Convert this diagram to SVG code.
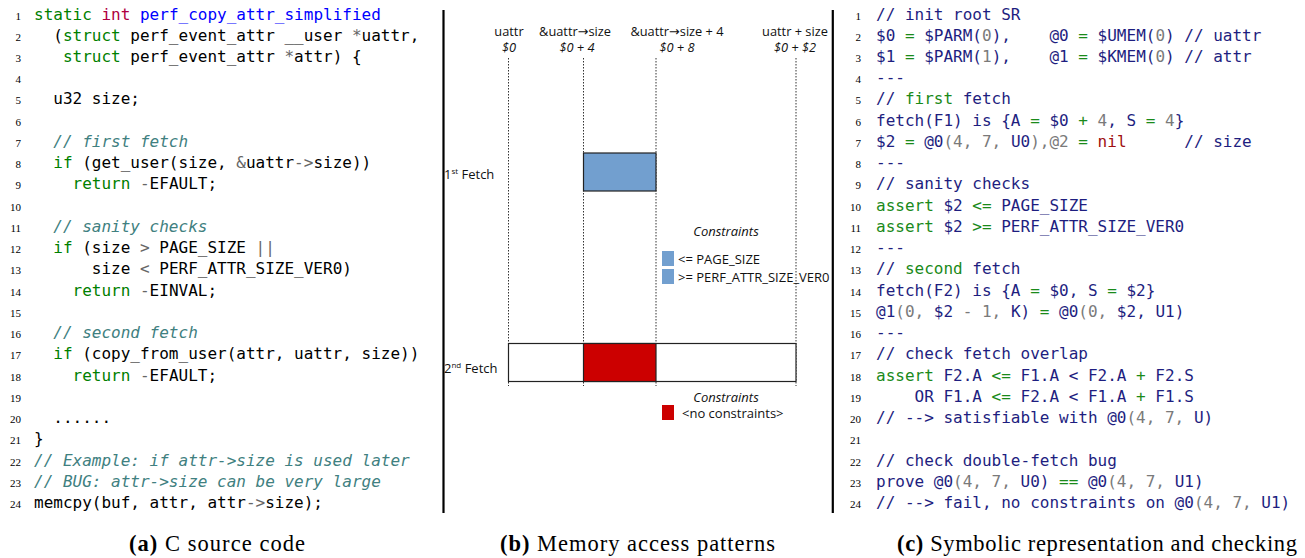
<svg xmlns="http://www.w3.org/2000/svg" width="1305" height="558" viewBox="0 0 1305 558">
<style>
.c{font-family:"DejaVu Sans Mono","Liberation Mono",monospace;font-size:16px;fill:#000;white-space:pre}
.ln{font-family:"Liberation Serif",serif;font-size:11px;text-anchor:end;fill:#000}
.kw{fill:#008000}.kt{fill:#B00040}.fn{fill:#0000FF}.op{fill:#666}.cm{fill:#408080;font-style:italic}
.n{fill:#1e1e80}.g{fill:#1a8a1a}.gy{fill:#7a7a7a}.r{fill:#a01010}
.s{font-family:"Open Sans","DejaVu Sans",sans-serif;font-size:13px;fill:#111}
.si{font-family:"Open Sans","DejaVu Sans",sans-serif;font-size:13px;font-style:italic;fill:#111}
.t{font-size:12.8px}
.mid{text-anchor:middle}
.sup{font-size:8px}
.cap{font-family:"Liberation Serif","Times New Roman",serif;font-size:22.5px;fill:#000}
.guide{stroke:#333;stroke-width:1;stroke-dasharray:1.5 1.5;fill:none}
.sep{stroke:#000;stroke-width:2.2}
.blue{fill:#729fcf}
.red{fill:#cc0000}
.box{stroke:#222;stroke-width:1.2}
</style>

<g id="separators">
<line class="sep" x1="443.5" y1="10" x2="443.5" y2="513"/>
<line class="sep" x1="832.8" y1="10" x2="832.8" y2="513"/>
</g>

<g id="panel-a-code">
<text class="ln" x="21" y="19.5">1</text><text class="c" x="34" y="19.5"><tspan class="kw">static</tspan> <tspan class="kt">int</tspan> <tspan class="fn">perf_copy_attr_simplified</tspan></text>
<text class="ln" x="21" y="40.74">2</text><text class="c" x="34" y="40.74">  (<tspan class="kw">struct</tspan> perf_event_attr __user <tspan class="op">*</tspan>uattr,</text>
<text class="ln" x="21" y="61.98">3</text><text class="c" x="34" y="61.98">   <tspan class="kw">struct</tspan> perf_event_attr <tspan class="op">*</tspan>attr) {</text>
<text class="ln" x="21" y="83.22">4</text>
<text class="ln" x="21" y="104.46">5</text><text class="c" x="34" y="104.46">  u32 size;</text>
<text class="ln" x="21" y="125.7">6</text>
<text class="ln" x="21" y="146.94">7</text><text class="c" x="34" y="146.94">  <tspan class="cm">// first fetch</tspan></text>
<text class="ln" x="21" y="168.18">8</text><text class="c" x="34" y="168.18">  <tspan class="kw">if</tspan> (get_user(size, <tspan class="op">&amp;</tspan>uattr<tspan class="op">-&gt;</tspan>size))</text>
<text class="ln" x="21" y="189.42">9</text><text class="c" x="34" y="189.42">    <tspan class="kw">return</tspan> <tspan class="op">-</tspan>EFAULT;</text>
<text class="ln" x="21" y="210.66">10</text>
<text class="ln" x="21" y="231.9">11</text><text class="c" x="34" y="231.9">  <tspan class="cm">// sanity checks</tspan></text>
<text class="ln" x="21" y="253.14">12</text><text class="c" x="34" y="253.14">  <tspan class="kw">if</tspan> (size <tspan class="op">&gt;</tspan> PAGE_SIZE <tspan class="op">||</tspan></text>
<text class="ln" x="21" y="274.38">13</text><text class="c" x="34" y="274.38">      size <tspan class="op">&lt;</tspan> PERF_ATTR_SIZE_VER0)</text>
<text class="ln" x="21" y="295.62">14</text><text class="c" x="34" y="295.62">    <tspan class="kw">return</tspan> <tspan class="op">-</tspan>EINVAL;</text>
<text class="ln" x="21" y="316.86">15</text>
<text class="ln" x="21" y="338.1">16</text><text class="c" x="34" y="338.1">  <tspan class="cm">// second fetch</tspan></text>
<text class="ln" x="21" y="359.34">17</text><text class="c" x="34" y="359.34">  <tspan class="kw">if</tspan> (copy_from_user(attr, uattr, size))</text>
<text class="ln" x="21" y="380.58">18</text><text class="c" x="34" y="380.58">    <tspan class="kw">return</tspan> <tspan class="op">-</tspan>EFAULT;</text>
<text class="ln" x="21" y="401.82">19</text>
<text class="ln" x="21" y="423.06">20</text><text class="c" x="34" y="423.06">  ......</text>
<text class="ln" x="21" y="444.3">21</text><text class="c" x="34" y="444.3">}</text>
<text class="ln" x="21" y="465.54">22</text><text class="c" x="34" y="465.54"><tspan class="cm">// Example: if attr-&gt;size is used later</tspan></text>
<text class="ln" x="21" y="486.78">23</text><text class="c" x="34" y="486.78"><tspan class="cm">// BUG: attr-&gt;size can be very large</tspan></text>
<text class="ln" x="21" y="508.02">24</text><text class="c" x="34" y="508.02">memcpy(buf, attr, attr<tspan class="op">-&gt;</tspan>size);</text>
</g>

<g id="panel-b-guides">
<line class="guide" x1="508.5" y1="58" x2="508.5" y2="386"/>
<line class="guide" x1="583.5" y1="58" x2="583.5" y2="386"/>
<line class="guide" x1="656" y1="58" x2="656" y2="386"/>
<line class="guide" x1="796" y1="58" x2="796" y2="386"/>
</g>

<g id="address-labels">
<text class="s t mid" x="509" y="36">uattr</text>
<text class="si t mid" x="509" y="52">$0</text>
<text class="s t mid" x="575" y="36">&amp;uattr→size</text>
<text class="si t mid" x="577" y="52">$0 + 4</text>
<text class="s t mid" x="677" y="36">&amp;uattr→size + 4</text>
<text class="si t mid" x="677" y="52">$0 + 8</text>
<text class="s t mid" x="795" y="36">uattr + size</text>
<text class="si t mid" x="795" y="52">$0 + $2</text>
</g>

<g id="fetch1">
<text class="s" x="444" y="178.5">1<tspan class="sup" dy="-5">st</tspan><tspan dy="5"> Fetch</tspan></text>
<rect class="blue box" x="583.5" y="153" width="72.5" height="38"/>
</g>

<g id="legend1">
<text class="si mid" x="726" y="236">Constraints</text>
<rect class="blue" x="662" y="251" width="12" height="15"/>
<text class="s" x="678" y="263.5">&lt;= PAGE_SIZE</text>
<rect class="blue" x="662" y="269" width="12" height="15"/>
<text class="s" x="678" y="281.5">&gt;= PERF_ATTR_SIZE_VER0</text>
</g>

<g id="fetch2">
<text class="s" x="444" y="372.5">2<tspan class="sup" dy="-5">nd</tspan><tspan dy="5"> Fetch</tspan></text>
<rect class="box" x="508.5" y="343.5" width="287.5" height="38" fill="#fff"/>
<rect class="red box" x="583.5" y="343.5" width="72.5" height="38"/>
</g>

<g id="legend2">
<text class="si mid" x="726" y="401.5">Constraints</text>
<rect class="red" x="662" y="405" width="12" height="15"/>
<text class="s" x="682" y="417.5">&lt;no constraints&gt;</text>
</g>

<g id="panel-c-code">
<text class="ln" x="861" y="19.5">1</text><text class="c n" x="876" y="19.5">// init root SR</text>
<text class="ln" x="861" y="40.74">2</text><text class="c n" x="876" y="40.74">$0 <tspan class="g">=</tspan> $PARM(<tspan class="gy">0</tspan>),    @0 <tspan class="g">=</tspan> $UMEM(<tspan class="gy">0</tspan>) // uattr</text>
<text class="ln" x="861" y="61.98">3</text><text class="c n" x="876" y="61.98">$1 <tspan class="g">=</tspan> $PARM(<tspan class="gy">1</tspan>),    @1 <tspan class="g">=</tspan> $KMEM(<tspan class="gy">0</tspan>) // attr</text>
<text class="ln" x="861" y="83.22">4</text><text class="c n" x="876" y="83.22">---</text>
<text class="ln" x="861" y="104.46">5</text><text class="c n" x="876" y="104.46">// <tspan class="g">first</tspan> fetch</text>
<text class="ln" x="861" y="125.7">6</text><text class="c n" x="876" y="125.7">fetch(F1) is {A <tspan class="g">=</tspan> $0 <tspan class="g">+</tspan> <tspan class="gy">4</tspan>, S <tspan class="g">=</tspan> <tspan class="gy">4</tspan>}</text>
<text class="ln" x="861" y="146.94">7</text><text class="c n" x="876" y="146.94">$2 <tspan class="g">=</tspan> @0<tspan class="gy">(4, 7, </tspan>U0<tspan class="gy">),@2</tspan> <tspan class="g">=</tspan> <tspan class="r">nil</tspan>      // size</text>
<text class="ln" x="861" y="168.18">8</text><text class="c n" x="876" y="168.18">---</text>
<text class="ln" x="861" y="189.42">9</text><text class="c n" x="876" y="189.42">// sanity checks</text>
<text class="ln" x="861" y="210.66">10</text><text class="c n" x="876" y="210.66"><tspan class="g">assert</tspan> $2 <tspan class="g">&lt;=</tspan> PAGE_SIZE</text>
<text class="ln" x="861" y="231.9">11</text><text class="c n" x="876" y="231.9"><tspan class="g">assert</tspan> $2 <tspan class="g">&gt;=</tspan> PERF_ATTR_SIZE_VER0</text>
<text class="ln" x="861" y="253.14">12</text><text class="c n" x="876" y="253.14">---</text>
<text class="ln" x="861" y="274.38">13</text><text class="c n" x="876" y="274.38">// <tspan class="g">second</tspan> fetch</text>
<text class="ln" x="861" y="295.62">14</text><text class="c n" x="876" y="295.62">fetch(F2) is {A <tspan class="g">=</tspan> $0, S <tspan class="g">=</tspan> $2}</text>
<text class="ln" x="861" y="316.86">15</text><text class="c n" x="876" y="316.86">@1<tspan class="gy">(0, </tspan>$2 <tspan class="gy">- 1, </tspan>K) <tspan class="g">=</tspan> @0<tspan class="gy">(0, </tspan>$2, U1)</text>
<text class="ln" x="861" y="338.1">16</text><text class="c n" x="876" y="338.1">---</text>
<text class="ln" x="861" y="359.34">17</text><text class="c n" x="876" y="359.34">// check fetch overlap</text>
<text class="ln" x="861" y="380.58">18</text><text class="c n" x="876" y="380.58"><tspan class="g">assert</tspan> F2.A <tspan class="g">&lt;=</tspan> F1.A &lt; F2.A <tspan class="g">+</tspan> F2.S</text>
<text class="ln" x="861" y="401.82">19</text><text class="c n" x="876" y="401.82">    OR F1.A <tspan class="g">&lt;=</tspan> F2.A &lt; F1.A <tspan class="g">+</tspan> F1.S</text>
<text class="ln" x="861" y="423.06">20</text><text class="c n" x="876" y="423.06">// --&gt; satisfiable with @0<tspan class="gy">(4, 7, </tspan>U)</text>
<text class="ln" x="861" y="444.3">21</text>
<text class="ln" x="861" y="465.54">22</text><text class="c n" x="876" y="465.54">// check double-fetch bug</text>
<text class="ln" x="861" y="486.78">23</text><text class="c n" x="876" y="486.78">prove @0<tspan class="gy">(4, 7, </tspan>U0) <tspan class="g">==</tspan> @0<tspan class="gy">(4, 7, </tspan>U1)</text>
<text class="ln" x="861" y="508.02">24</text><text class="c n" x="876" y="508.02">// --&gt; fail, no constraints on @0<tspan class="gy">(4, 7, </tspan>U1)</text>
</g>

<g id="captions">
<text class="cap" x="129" y="551" textLength="176" lengthAdjust="spacing"><tspan font-weight="bold">(a)</tspan> C source code</text>
<text class="cap" x="500" y="551" textLength="275" lengthAdjust="spacing"><tspan font-weight="bold">(b)</tspan> Memory access patterns</text>
<text class="cap" x="897" y="551" textLength="400" lengthAdjust="spacing"><tspan font-weight="bold">(c)</tspan> Symbolic representation and checking</text>
</g>
</svg>
